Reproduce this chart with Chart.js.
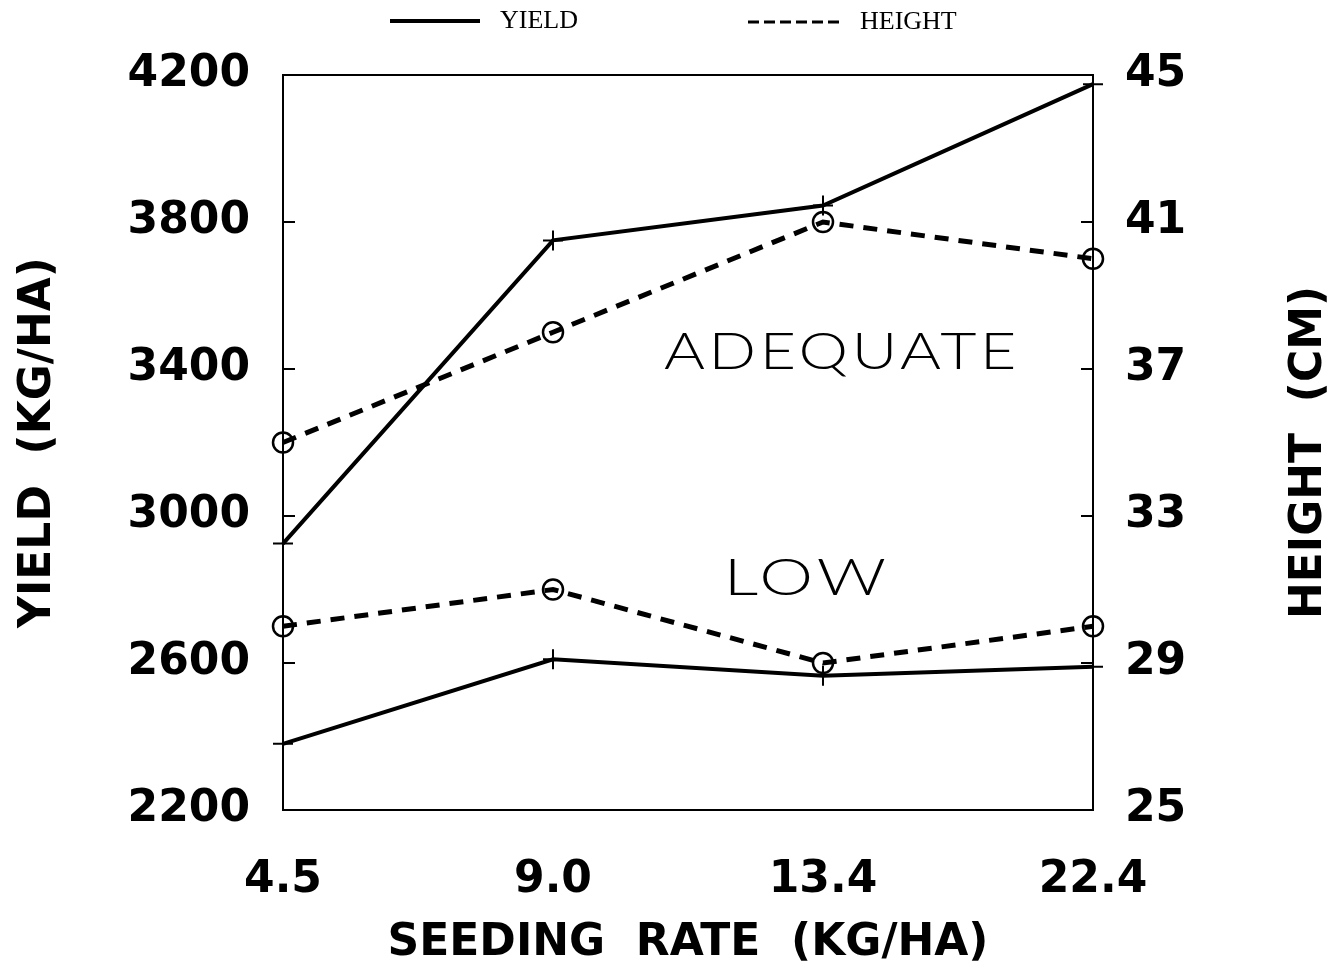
<!DOCTYPE html>
<html>
<head>
<meta charset="utf-8">
<script src="https://cdn.jsdelivr.net/npm/chart.js@4.4.1/dist/chart.umd.min.js"></script>
<style>
  html, body { margin: 0; padding: 0; background: #fff; }
  #wrap { width: 1333px; height: 970px; }
</style>
</head>
<body>
<div id="wrap"><canvas id="seedChart" width="1333" height="970"></canvas></div>
<script>
// values
const seedingRates = ['4.5', '9.0', '13.4', '22.4'];
const yieldAdequate = [2925, 3750, 3845, 4175];
const yieldLow = [2380, 2610, 2565, 2590];
const heightAdequate = [35, 38, 41, 40];
const heightLow = [30, 31, 29, 30];
const yieldTicks = [2200, 2600, 3000, 3400, 3800, 4200];
const heightTicks = [25, 29, 33, 37, 41, 45];

const boldFont = { family: '"DejaVu Sans", "Liberation Sans", sans-serif', weight: 'bold', size: 44 };
const black = '#000';

// text placed inside the plot (x = category index, y = yield value)
const groupLabels = [
    { text: 'ADEQUATE', x: 2.07, y: 3446, width: 356 },
    { text: 'LOW', x: 1.94, y: 2831, width: 166 }
];

function yieldSet(data) {
    return {
        data, yAxisID: 'y', borderColor: black, borderWidth: 4, fill: false, tension: 0,
        pointStyle: 'cross', pointRadius: 10, pointBorderWidth: 2, pointBorderColor: black,
        clip: false
    };
}
function heightSet(data) {
    return {
        data, yAxisID: 'y2', borderColor: black, borderWidth: 5, borderDash: [14, 10], fill: false, tension: 0,
        pointStyle: 'circle', pointRadius: 10, pointBorderWidth: 2.5, pointBorderColor: black,
        pointBackgroundColor: 'rgba(0,0,0,0)', clip: false
    };
}

const decorations = {
    id: 'decorations',
    afterDraw(chart) {
        const { ctx, chartArea: a, scales } = chart;
        ctx.save();
        ctx.strokeStyle = black;
        ctx.fillStyle = black;

        // plot frame
        ctx.lineWidth = 2;
        ctx.strokeRect(a.left, a.top, a.right - a.left, a.bottom - a.top);

        // inward tick marks
        ctx.lineWidth = 2;
        scales.y.ticks.forEach(t => {
            const py = scales.y.getPixelForValue(t.value);
            ctx.beginPath(); ctx.moveTo(a.left, py); ctx.lineTo(a.left + 12, py); ctx.stroke();
        });
        scales.y2.ticks.forEach(t => {
            const py = scales.y2.getPixelForValue(t.value);
            ctx.beginPath(); ctx.moveTo(a.right, py); ctx.lineTo(a.right - 12, py); ctx.stroke();
        });

        // right axis title, reading bottom to top
        ctx.save();
        ctx.font = 'bold 44px "DejaVu Sans", "Liberation Sans", sans-serif';
        ctx.textAlign = 'center';
        ctx.textBaseline = 'middle';
        ctx.translate(1310, (a.top + a.bottom) / 2 + 10);
        ctx.rotate(-Math.PI / 2);
        ctx.fillText('HEIGHT  (CM)', 0, 0);
        ctx.restore();

        // group labels: light face, stretched wide like the original lettering
        groupLabels.forEach(g => {
            ctx.save();
            ctx.font = '300 52px Lato, "DejaVu Sans", sans-serif';
            ctx.textAlign = 'left';
            ctx.textBaseline = 'middle';
            if ('letterSpacing' in ctx) ctx.letterSpacing = '3px';
            const w = ctx.measureText(g.text).width;
            const sx = g.width / w;
            const cx = scales.x.getPixelForValue(g.x);
            const cy = scales.y.getPixelForValue(g.y);
            ctx.translate(cx - g.width / 2, cy);
            ctx.scale(sx, 1);
            ctx.fillText(g.text, 0, 0);
            ctx.restore();
        });

        // legend
        ctx.font = '26px "Liberation Serif", "Times New Roman", serif';
        ctx.textAlign = 'left';
        ctx.textBaseline = 'middle';
        ctx.lineWidth = 4;
        ctx.setLineDash([]);
        ctx.beginPath(); ctx.moveTo(390, 21); ctx.lineTo(480, 21); ctx.stroke();
        ctx.fillText('YIELD', 500, 21);
        ctx.lineWidth = 3;
        ctx.setLineDash([11, 5]);
        ctx.beginPath(); ctx.moveTo(748, 22); ctx.lineTo(843, 22); ctx.stroke();
        ctx.setLineDash([]);
        ctx.fillText('HEIGHT', 860, 22);

        ctx.restore();
    }
};

const ctx = document.getElementById('seedChart').getContext('2d');
new Chart(ctx, {
    type: 'line',
    data: {
        labels: seedingRates,
        datasets: [
            yieldSet(yieldAdequate),
            heightSet(heightAdequate),
            yieldSet(yieldLow),
            heightSet(heightLow)
        ]
    },
    options: {
        responsive: false,
        animation: false,
        devicePixelRatio: 1,
        layout: { padding: { top: 75, left: 10, right: 0, bottom: 0 } },
        plugins: { legend: { display: false }, tooltip: { enabled: false } },
        scales: {
            x: {
                type: 'category',
                grid: { display: false, drawTicks: false },
                border: { display: false },
                ticks: { color: black, font: boldFont, padding: 44, maxRotation: 0, autoSkip: false },
                title: { display: true, text: 'SEEDING  RATE  (KG/HA)', color: black, font: boldFont, padding: { top: 0, bottom: 0 } },
                afterFit: s => { s.height = 160; }
            },
            y: {
                position: 'left',
                min: yieldTicks[0],
                max: yieldTicks[yieldTicks.length - 1],
                afterBuildTicks: s => { s.ticks = yieldTicks.map(v => ({ value: v })); },
                grid: { display: false, drawTicks: false },
                border: { display: false },
                ticks: { color: black, font: boldFont, padding: 33, callback: v => String(v) },
                title: { display: true, text: 'YIELD  (KG/HA)', color: black, font: boldFont, padding: { top: 2, bottom: 0 } },
                afterFit: s => { s.width = 273; }
            },
            y2: {
                position: 'right',
                min: heightTicks[0],
                max: heightTicks[heightTicks.length - 1],
                afterBuildTicks: s => { s.ticks = heightTicks.map(v => ({ value: v })); },
                grid: { display: false, drawTicks: false },
                border: { display: false },
                ticks: { color: black, font: boldFont, padding: 32, callback: v => String(v) },
                afterFit: s => { s.width = 240; }
            }
        }
    },
    plugins: [decorations]
});
</script>
</body>
</html>
